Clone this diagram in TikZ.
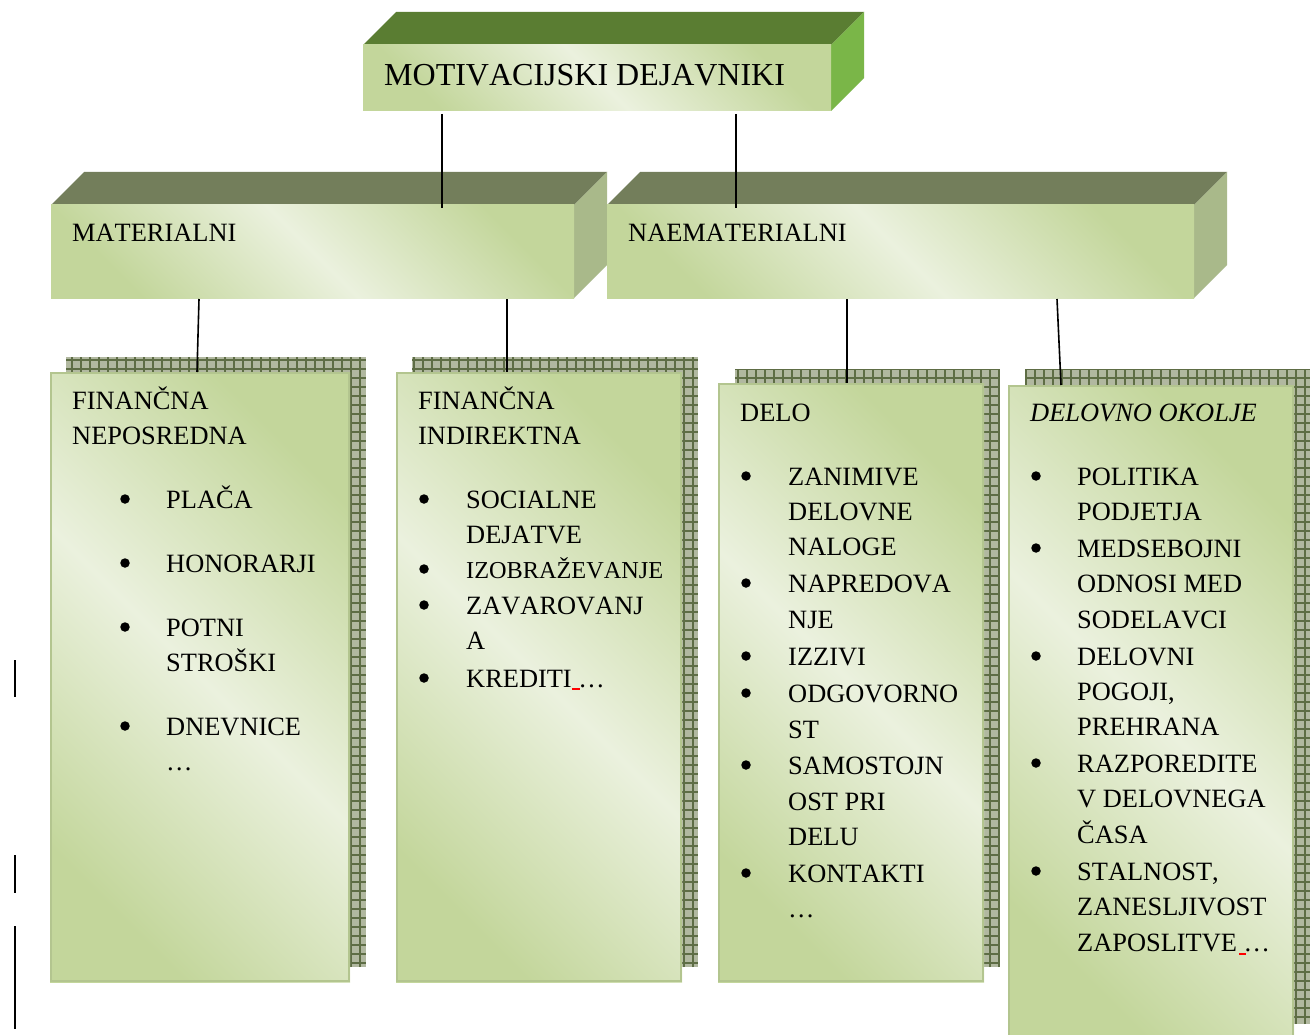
\documentclass[tikz,border=0pt]{standalone}
\usepackage{fontspec}
\setmainfont[Kerning=Off]{Liberation Serif}
\usetikzlibrary{calc}
\definecolor{frdark}{HTML}{C3D69B}
\definecolor{frlight}{HTML}{EBF1DE}
\definecolor{tgreen}{HTML}{5A7D32}
\definecolor{sgreen}{HTML}{7AB648}
\definecolor{tolive}{HTML}{737E5B}
\definecolor{solive}{HTML}{A9B98A}
\definecolor{shfill}{HTML}{B1B8A0}
\definecolor{shline}{HTML}{5E6D45}
\tikzset{
  txt/.style={inner sep=0pt, anchor=base west, font=\fontsize{26.4}{35}\selectfont},
  ttl/.style={inner sep=0pt, anchor=base west, font=\fontsize{32}{36}\selectfont},
  bul/.style={circle, fill=black, inner sep=0pt, minimum size=9.5pt},
  conn/.style={draw=black, line width=1.6pt},
  connthick/.style={draw=black, line width=2.6pt},
  front/.style={top color=frdark, bottom color=frdark, middle color=frlight, shading angle=-45},
  frontborder/.style={draw=frdark!92!black, line width=2pt},
  marginbar/.style={draw=black, line width=2pt},
}
% 3D box: x1 y1 x2 y2 (front face), depth, top colour, side colour
\newcommand\threedbox[7]{%
  \fill[#6] (#1,#2) -- (#1+#5,#2-#5) -- (#3+#5,#2-#5) -- (#3,#2) -- cycle;
  \fill[#7] (#3,#2) -- (#3+#5,#2-#5) -- (#3+#5,#4-#5) -- (#3,#4) -- cycle;
  \shade[front] (#1,#2) rectangle (#3,#4);
}
% shadowed box: shadow x1 y1 x2 y2, front x1 y1 x2 y2
\newcommand\shadowbox[8]{%
  \begin{scope}
    \clip (#1,#2) rectangle (#3,#4);
    \fill[shfill] (#1,#2) rectangle (#3,#4);
    \draw[shline, line width=1.4pt, step=9pt] (#1,#2) grid (#3,#4);
  \end{scope}
  \shade[front] (#5,#6) rectangle (#7,#8);
  \draw[frontborder] (#5+1,#6+1) rectangle (#7-1,#8-1);
}
\begin{document}
\begin{tikzpicture}[x=1pt,y=-1pt]
\useasboundingbox (0,0) rectangle (1314,1035);
\fill[white] (0,0) rectangle (1314,1035);

% ---------- top box
\threedbox{363}{45}{831}{111}{33}{tgreen}{sgreen}
\node[ttl] (title) at (384,86) {MOTIVACIJSKI DEJAVNIKI};

% ---------- middle boxes
\threedbox{51}{205}{574}{298}{33}{tolive}{solive}
\node[txt] (mat) at (72,241) {MATERIALNI};
\threedbox{607}{205}{1194}{298}{33}{tolive}{solive}
\node[txt] (nemat) at (628,241) {NAEMATERIALNI};

% connection points
\coordinate (tA) at (442,114);
\coordinate (tB) at (736,114);
\coordinate (mA) at (442,208);
\coordinate (mB) at (736,208);
\draw[connthick] (tA) -- (mA);
\draw[connthick] (tB) -- (mB);

% ---------- bottom boxes
\shadowbox{66}{357}{366}{967}{50}{372}{350}{982}
\shadowbox{412}{357}{698}{967}{396}{372}{682}{982}
\shadowbox{735}{369}{1000}{967}{718}{383}{984}{982}
\shadowbox{1025}{369}{1310}{1024}{1008}{385}{1294}{1040}

\coordinate (m1) at (199,299);
\coordinate (m2) at (507,299);
\coordinate (m3) at (847,299);
\coordinate (m4) at (1057,299);
\coordinate (b1) at (197,372);
\coordinate (b2) at (507,372);
\coordinate (b3) at (847,383);
\coordinate (b4) at (1061,385);
\draw[conn] (m1) -- (b1);
\draw[conn] (m2) -- (b2);
\draw[conn] (m3) -- (b3);
\draw[conn] (m4) -- (b4);

% ---------- box 1 text
\node[txt] (a0) at (72,409) {FINANČNA};
\node[txt] (a1) at (72,444) {NEPOSREDNA};
\foreach \t/\y [count=\i] in {PLAČA/508, HONORARJI/572, POTNI/636, STROŠKI/671, DNEVNICE/735, …/770}
  \node[txt] (a\i l) at (166,\y) {\t};
\foreach \y [count=\i] in {508,572,636,735}
  \node[bul] (a\i b) at (125,\y-9) {};

% ---------- box 2 text
\node[txt] (c0) at (418,409) {FINANČNA};
\node[txt] (c1) at (418,444) {INDIREKTNA};
\foreach \t/\y [count=\i] in {SOCIALNE/508, DEJATVE/543, ZAVAROVANJ/614, A/649, KREDITI …/687}
  \node[txt] (c\i l) at (466,\y) {\t};
\node[txt, font=\fontsize{24.3}{35}\selectfont] (ciz) at (466,578) {IZOBRAŽEVANJE};
\foreach \y [count=\i] in {508,578,614,687}
  \node[bul] (c\i b) at (424,\y-9) {};
\coordinate (rq1) at (572,689);
\coordinate (rq2) at (580,689);
\draw[red, line width=1.5pt] (rq1) -- (rq2);

% ---------- box 3 text
\node[txt] (d0) at (740,421) {DELO};
\foreach \t/\y [count=\i] in {ZANIMIVE/485, DELOVNE/520, NALOGE/555, NAPREDOVA/592, NJE/628, IZZIVI/665, ODGOVORNO/702, ST/738, SAMOSTOJN/774, OST PRI/810, DELU/845, KONTAKTI/882, …/917}
  \node[txt] (d\i l) at (788,\y) {\t};
\foreach \y [count=\i] in {485,592,665,702,774,882}
  \node[bul] (d\i b) at (746,\y-9) {};

% ---------- box 4 text
\node[txt, font=\fontsize{26.4}{35}\selectfont\itshape] (e0) at (1030,421) {DELOVNO OKOLJE};
\foreach \t/\y [count=\i] in {POLITIKA/485, PODJETJA/520, MEDSEBOJNI/557, ODNOSI MED/592, SODELAVCI/628, DELOVNI/665, {POGOJI,}/700, PREHRANA/735, RAZPOREDITE/772, V DELOVNEGA/807, ČASA/843, {STALNOST,}/880, ZANESLJIVOST/915, ZAPOSLITVE …/951}
  \node[txt] (e\i l) at (1077,\y) {\t};
\foreach \y [count=\i] in {485,557,665,772,880}
  \node[bul] (e\i b) at (1036,\y-9) {};
\coordinate (rr1) at (1239,954);
\coordinate (rr2) at (1246,954);
\draw[red, line width=1.5pt] (rr1) -- (rr2);

% ---------- left margin marks
\coordinate (k1a) at (15,660); \coordinate (k1b) at (15,697);
\coordinate (k2a) at (15,855); \coordinate (k2b) at (15,893);
\coordinate (k3a) at (15,926); \coordinate (k3b) at (15,1029);
\draw[marginbar] (k1a) -- (k1b);
\draw[marginbar] (k2a) -- (k2b);
\draw[marginbar] (k3a) -- (k3b);
\end{tikzpicture}
\end{document}
